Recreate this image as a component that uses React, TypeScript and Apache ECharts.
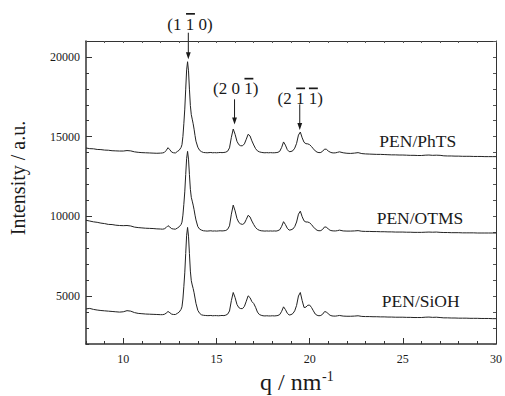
import React, { useEffect, useRef } from 'react';
import * as echarts from 'echarts';

// q grid (nm^-1)
const Q = [
  8, 8.2, 8.4, 8.6, 8.8, 9, 9.2, 9.4, 9.6, 9.8, 10, 10.2, 10.4, 10.6, 10.8, 11, 11.2, 11.4, 11.6, 11.8, 12,
  12.1, 12.2, 12.3, 12.4, 12.5, 12.6, 12.7, 12.8, 12.9, 13, 13.1,
  13.15, 13.2, 13.25, 13.3, 13.35, 13.4, 13.45, 13.5, 13.55, 13.6, 13.65, 13.7, 13.75, 13.8, 13.85, 13.9,
  14, 14.1, 14.2, 14.3, 14.4, 14.5, 14.6, 14.7, 14.8, 14.9,
  15, 15.1, 15.2, 15.3, 15.4, 15.5, 15.6, 15.7, 15.8, 15.9,
  16, 16.1, 16.2, 16.3, 16.4, 16.5, 16.6, 16.7, 16.8, 16.9,
  17, 17.1, 17.2, 17.3, 17.4, 17.5, 17.6, 17.7, 17.8, 17.9,
  18, 18.1, 18.2, 18.3, 18.4, 18.5, 18.6, 18.7, 18.8, 18.9,
  19, 19.1, 19.2, 19.3, 19.4, 19.5, 19.6, 19.7, 19.8, 19.9,
  20, 20.1, 20.2, 20.3, 20.4, 20.5, 20.6, 20.7, 20.8, 20.9,
  21, 21.1, 21.2, 21.3, 21.4, 21.5, 21.6,
  21.8, 22, 22.2, 22.4, 22.6, 22.8, 23, 23.2, 23.4, 23.6, 23.8, 24, 24.2, 24.4, 24.6, 24.8,
  25, 25.2, 25.4, 25.6, 25.8, 26, 26.2, 26.4, 26.6, 26.8, 27, 27.2, 27.4, 27.6, 27.8,
  28, 28.2, 28.4, 28.6, 28.8, 29, 29.2, 29.4, 29.6, 29.8, 30,
];

const PEN_PHTS = [
  14290, 14250, 14240, 14200, 14190, 14160, 14150, 14120, 14110, 14100, 14100, 14130, 14110, 14050, 14020, 14000, 13990, 13980, 13970, 13960, 13970,
  13980, 14010, 14130, 14310, 14180, 14030, 13990, 13980, 14070, 14150, 14320,
  14500, 15010, 15810, 16730, 17980, 19190, 19700, 19130, 17980, 16950, 16380, 16100, 15810, 15470, 15070, 14720,
  14340, 14140, 14060, 14010, 14000, 13990, 14000, 14010, 13990, 14000,
  13990, 14000, 14010, 14000, 14010, 14030, 14090, 14300, 14960, 15480,
  15150, 14710, 14500, 14430, 14430, 14550, 14840, 15150, 15050, 14740,
  14480, 14250, 14110, 14050, 14020, 14000, 13990, 14000, 13990, 14000,
  13990, 13990, 14000, 14020, 14090, 14330, 14670, 14470, 14190, 14060,
  14070, 14120, 14280, 14580, 15100, 15290, 14930, 14650, 14560, 14550,
  14500, 14380, 14240, 14110, 14030, 14000, 14010, 14090, 14220, 14210,
  14100, 14030, 13990, 13980, 13990, 14020, 14050,
  13990, 13960, 13950, 13970, 14000, 13940, 13920, 13910, 13900, 13890, 13890, 13880, 13870, 13860, 13860, 13850,
  13850, 13840, 13830, 13830, 13820, 13820, 13840, 13850, 13830, 13840, 13830, 13800, 13790, 13790, 13780,
  13780, 13770, 13770, 13770, 13760, 13760, 13760, 13750, 13750, 13750, 13750,
];

const PEN_OTMS = [
  9760, 9710, 9660, 9630, 9580, 9550, 9500, 9490, 9450, 9430, 9420, 9430, 9400, 9330, 9300, 9280, 9260, 9250, 9240, 9220, 9210,
  9200, 9220, 9300, 9420, 9330, 9230, 9210, 9200, 9270, 9350, 9490,
  9640, 10080, 10760, 11540, 12620, 13640, 14080, 13590, 12620, 11700, 11200, 10960, 10710, 10420, 10080, 9780,
  9360, 9200, 9140, 9100, 9090, 9080, 9090, 9100, 9080, 9090,
  9080, 9090, 9100, 9090, 9100, 9120, 9190, 9410, 10140, 10710,
  10350, 9870, 9620, 9530, 9500, 9570, 9810, 10070, 9970, 9710,
  9490, 9300, 9190, 9130, 9100, 9090, 9080, 9090, 9080, 9090,
  9080, 9090, 9080, 9110, 9170, 9380, 9670, 9490, 9260, 9140,
  9160, 9210, 9360, 9650, 10140, 10330, 9980, 9720, 9650, 9650,
  9600, 9490, 9340, 9220, 9130, 9100, 9110, 9190, 9340, 9330,
  9210, 9130, 9100, 9090, 9090, 9110, 9140,
  9090, 9080, 9080, 9090, 9110, 9070, 9060, 9060, 9050, 9050, 9040, 9040, 9030, 9030, 9020, 9020,
  9020, 9010, 9010, 9000, 9000, 9000, 9010, 9020, 9010, 9020, 9000, 8990, 8990, 8980, 8980,
  8980, 8970, 8970, 8970, 8970, 8960, 8960, 8960, 8960, 8960, 8960,
];

const PEN_SIOH = [
  4200, 4230, 4170, 4130, 4100, 4080, 4060, 4040, 4020, 4000, 4020, 4090, 4060, 3970, 3920, 3900, 3880, 3870, 3860, 3850, 3840,
  3840, 3860, 3930, 4040, 3960, 3870, 3850, 3850, 3920, 4000, 4170,
  4330, 4820, 5590, 6460, 7670, 8820, 9310, 8760, 7670, 6570, 5970, 5700, 5480, 5210, 4880, 4550,
  4110, 3920, 3830, 3800, 3790, 3780, 3780, 3790, 3770, 3780,
  3780, 3770, 3780, 3790, 3780, 3810, 3870, 4070, 4720, 5230,
  4910, 4480, 4280, 4220, 4220, 4360, 4680, 5020, 4910, 4660,
  4540, 4300, 4000, 3850, 3800, 3770, 3760, 3770, 3760, 3760,
  3770, 3760, 3770, 3790, 3850, 4050, 4330, 4160, 3930, 3820,
  3840, 3910, 4080, 4420, 5010, 5230, 4720, 4290, 4310, 4430,
  4440, 4290, 4080, 3880, 3800, 3770, 3790, 3870, 4030, 4010,
  3890, 3800, 3760, 3750, 3750, 3770, 3790,
  3750, 3740, 3740, 3750, 3770, 3730, 3720, 3720, 3710, 3710, 3700, 3700, 3690, 3690, 3680, 3680,
  3680, 3670, 3670, 3660, 3660, 3660, 3680, 3690, 3670, 3680, 3660, 3640, 3640, 3630, 3630,
  3620, 3620, 3620, 3610, 3610, 3610, 3600, 3600, 3600, 3590, 3590,
];

const SERIES_NAMES = ['PEN/PhTS', 'PEN/OTMS', 'PEN/SiOH'];
const SERIES_VALUES = [PEN_PHTS, PEN_OTMS, PEN_SIOH];
// label anchor for each curve name, in data units [q, intensity]
const NAME_POS = [
  [25.8, 14730],
  [25.92, 9880],
  [25.96, 4700],
];

const X_MAJOR = [10, 15, 20, 25, 30];
const Y_MAJOR = [5000, 10000, 15000, 20000];

// Miller index annotations; bars = indices of characters carrying an overbar
const ANNOTATIONS = [
  { text: '(1 1 0)', bars: [3], labelQ: 13.58, labelV: 22066, arrowQ: 13.49, fromV: 21520, tipV: 19852 },
  { text: '(2 0 1)', bars: [5], labelQ: 16.03, labelV: 18002, arrowQ: 15.97, fromV: 17344, tipV: 15764 },
  { text: '(2 1 1)', bars: [3, 5], labelQ: 19.49, labelV: 17394, arrowQ: 19.47, fromV: 17030, tipV: 15419 },
];

const FONT = 'Liberation Serif';
const INK = '#1a1a1a';

const charW = (c: string) => (c === '(' || c === ')' ? 0.333 : c === ' ' ? 0.25 : 0.5);

export default function App() {
  const ref = useRef<HTMLDivElement>(null);

  useEffect(() => {
    if (!ref.current) return;
    const chart = echarts.init(ref.current, undefined, { renderer: 'svg' });

    const axisLine = (w: number) => ({ show: true, onZero: false, lineStyle: { color: '#333', width: w } });
    const base = { type: 'value' as const, splitLine: { show: false } };

    chart.setOption({
      animation: false,
      backgroundColor: '#ffffff',
      textStyle: { fontFamily: FONT },
      grid: { left: 86, right: 5, top: 41, bottom: 52, containLabel: false },
      xAxis: [
        {
          ...base, position: 'bottom', min: 8, max: 30, interval: 1,
          axisLine: axisLine(1.5),
          axisTick: { show: true, inside: true, length: 3, lineStyle: { color: '#333', width: 1 } },
          axisLabel: {
            show: true, margin: 9, fontFamily: FONT, fontSize: 12, color: INK,
            formatter: (v: number) => (X_MAJOR.includes(v) ? String(v) : ''),
          },
        },
        {
          ...base, position: 'bottom', min: 8, max: 30,
          axisLine: { show: false, onZero: false },
          axisTick: { show: true, inside: true, length: 6, customValues: X_MAJOR, lineStyle: { color: '#333', width: 1 } },
          axisLabel: { show: false },
        },
        {
          ...base, position: 'top', min: 8, max: 30, interval: 1,
          axisLine: axisLine(1),
          axisTick: { show: true, inside: true, length: 2, lineStyle: { color: '#555', width: 1 } },
          axisLabel: { show: false },
        },
      ],
      yAxis: [
        {
          ...base, position: 'left', min: 2000, max: 21000, interval: 1000,
          axisLine: axisLine(1.5),
          axisTick: { show: true, inside: true, length: 3, lineStyle: { color: '#333', width: 1 } },
          axisLabel: {
            show: true, margin: 6, fontFamily: FONT, fontSize: 12, color: INK,
            formatter: (v: number) => (Y_MAJOR.includes(v) ? String(v) : ''),
          },
        },
        {
          ...base, position: 'left', min: 2000, max: 21000,
          axisLine: { show: false, onZero: false },
          axisTick: { show: true, inside: true, length: 6, customValues: Y_MAJOR, lineStyle: { color: '#333', width: 1 } },
          axisLabel: { show: false },
        },
        {
          ...base, position: 'right', min: 2000, max: 21000, interval: 1000,
          axisLine: axisLine(1),
          axisTick: { show: true, inside: true, length: 3, lineStyle: { color: '#555', width: 1 } },
          axisLabel: { show: false },
        },
      ],
      series: SERIES_VALUES.map((vals, k) => ({
        name: SERIES_NAMES[k],
        type: 'line',
        xAxisIndex: 0,
        yAxisIndex: 0,
        showSymbol: false,
        symbol: 'none',
        silent: true,
        lineStyle: { color: '#222', width: 1 },
        data: Q.map((q, i) => [q, vals[i]]),
      })),
    });

    const toPx = (q: number, v: number) =>
      chart.convertToPixel({ xAxisIndex: 0, yAxisIndex: 0 }, [q, v]) as number[];

    const graphics: any[] = [];

    // curve names
    SERIES_NAMES.forEach((name, k) => {
      const [x, y] = toPx(NAME_POS[k][0], NAME_POS[k][1]);
      graphics.push({
        type: 'text', x, y, silent: true,
        style: { text: name, fontFamily: FONT, fontSize: 17.5, fill: INK, align: 'center', verticalAlign: 'middle' },
      });
    });

    // Miller index labels with overbars and arrows
    const fs = 17;
    ANNOTATIONS.forEach((a) => {
      const [lx, ly] = toPx(a.labelQ, a.labelV);
      graphics.push({
        type: 'text', x: lx, y: ly, silent: true,
        style: { text: a.text, fontFamily: FONT, fontSize: fs, fill: INK, align: 'center', verticalAlign: 'middle' },
      });
      const chars = a.text.split('');
      const total = chars.reduce((s, c) => s + charW(c), 0) * fs;
      const start = lx - total / 2;
      a.bars.forEach((idx) => {
        const off = chars.slice(0, idx).reduce((s, c) => s + charW(c), 0) * fs;
        const w = charW(chars[idx]) * fs;
        graphics.push({
          type: 'rect', silent: true,
          shape: { x: start + off + 0.3, y: ly - 0.6 * fs - 0.8, width: w + 0.4, height: 1.7 },
          style: { fill: INK },
        });
      });
      const [ax, ay0] = toPx(a.arrowQ, a.fromV);
      const [, ay1] = toPx(a.arrowQ, a.tipV);
      graphics.push({
        type: 'line', silent: true,
        shape: { x1: ax, y1: ay0, x2: ax, y2: ay1 - 5 },
        style: { stroke: INK, lineWidth: 1 },
      });
      graphics.push({
        type: 'polygon', silent: true,
        shape: { points: [[ax - 2.4, ay1 - 7], [ax + 2.4, ay1 - 7], [ax, ay1]] },
        style: { fill: INK },
      });
    });

    // axis titles
    graphics.push({
      type: 'text', x: 18, y: 178, rotation: Math.PI / 2, silent: true,
      style: { text: 'Intensity / a.u.', fontFamily: FONT, fontSize: 20, fill: INK, align: 'center', verticalAlign: 'middle' },
    });
    graphics.push({
      type: 'text', x: 260, y: 382, silent: true,
      style: { text: 'q / nm', fontFamily: FONT, fontSize: 24, fill: INK, align: 'left', verticalAlign: 'middle' },
    });
    graphics.push({
      type: 'text', x: 322, y: 376.5, silent: true,
      style: { text: '-1', fontFamily: FONT, fontSize: 14, fill: INK, align: 'left', verticalAlign: 'middle' },
    });

    chart.setOption({ graphic: graphics });

    return () => chart.dispose();
  }, []);

  return (
    <div
      ref={ref}
      style={{ position: 'fixed', left: 0, top: 0, width: 505, height: 396, background: '#fff' }}
    />
  );
}
